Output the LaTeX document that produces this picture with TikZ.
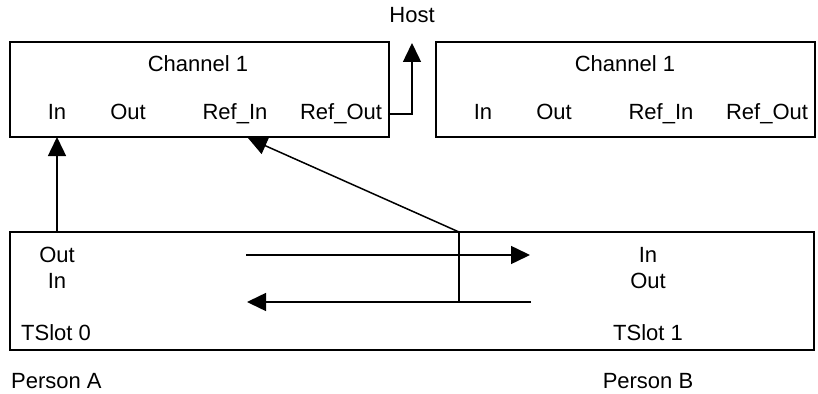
\documentclass[tikz,border=0pt]{standalone}
\usepackage{fontspec}
\setmainfont{Liberation Sans}
\usetikzlibrary{arrows.meta}
\begin{document}
\begin{tikzpicture}[x=1pt,y=-1pt,
  box/.style={draw, line width=1.6pt, inner sep=0pt},
  lbl/.style={inner sep=0pt, anchor=base, font=\fontsize{22}{26}\selectfont},
  wire/.style={line width=1.5pt},
  arr/.style={line width=1.5pt, -{Triangle[length=19pt,width=18pt]}}]
\useasboundingbox (0,0) rectangle (818,393);
% boxes
\node[box, minimum width=379pt, minimum height=95pt] (ch1) at (199.5,89.5) {};
\node[box, minimum width=379pt, minimum height=95pt] (ch2) at (625.5,89.5) {};
\node[box, minimum width=804pt, minimum height=118pt] (ts) at (412,291) {};
% texts
\node[lbl] (host) at (412,23) {Host};
\node[lbl] (c1t) at (198,72) {Channel 1};
\node[lbl] (c1in) at (57,119) {In};
\node[lbl] (c1out) at (128,119) {Out};
\node[lbl] (c1rin) at (235,119) {Ref\_In};
\node[lbl] (c1rout) at (341,119) {Ref\_Out};
\node[lbl] (c2t) at (625,72) {Channel 1};
\node[lbl] (c2in) at (483,119) {In};
\node[lbl] (c2out) at (554,119) {Out};
\node[lbl] (c2rin) at (661,119) {Ref\_In};
\node[lbl] (c2rout) at (767,119) {Ref\_Out};
\node[lbl] (aout) at (57,262) {Out};
\node[lbl] (ain) at (57,288) {In};
\node[lbl, anchor=base west] (ats) at (21,340) {TSlot 0};
\node[lbl] (bin) at (648,262) {In};
\node[lbl] (bout) at (648,288) {Out};
\node[lbl] (bts) at (648,340) {TSlot 1};
\node[lbl, anchor=base west] (pa) at (11,388) {Person A};
\node[lbl] (pb) at (648,388) {Person B};
% connector points
\coordinate (hostin) at (412,43);
\coordinate (refoutp) at (389,114);
\coordinate (split) at (459,232);
\coordinate (splitb) at (459,302);
\coordinate (refin) at (248,138);
\coordinate (ina) at (57,137);
\coordinate (outa) at (57,232);
\coordinate (s1) at (246,255);
\coordinate (e1) at (530,255);
\coordinate (s2) at (531,302);
\coordinate (e2) at (247,302);
% connectors
\draw[arr] (refoutp) -| (hostin);
\draw[arr] (outa) -- (ina);
\draw[arr] (split) -- (refin);
\draw[wire] (split) -- (splitb);
\draw[arr] (s1) -- (e1);
\draw[arr] (s2) -- (e2);
\end{tikzpicture}
\end{document}
